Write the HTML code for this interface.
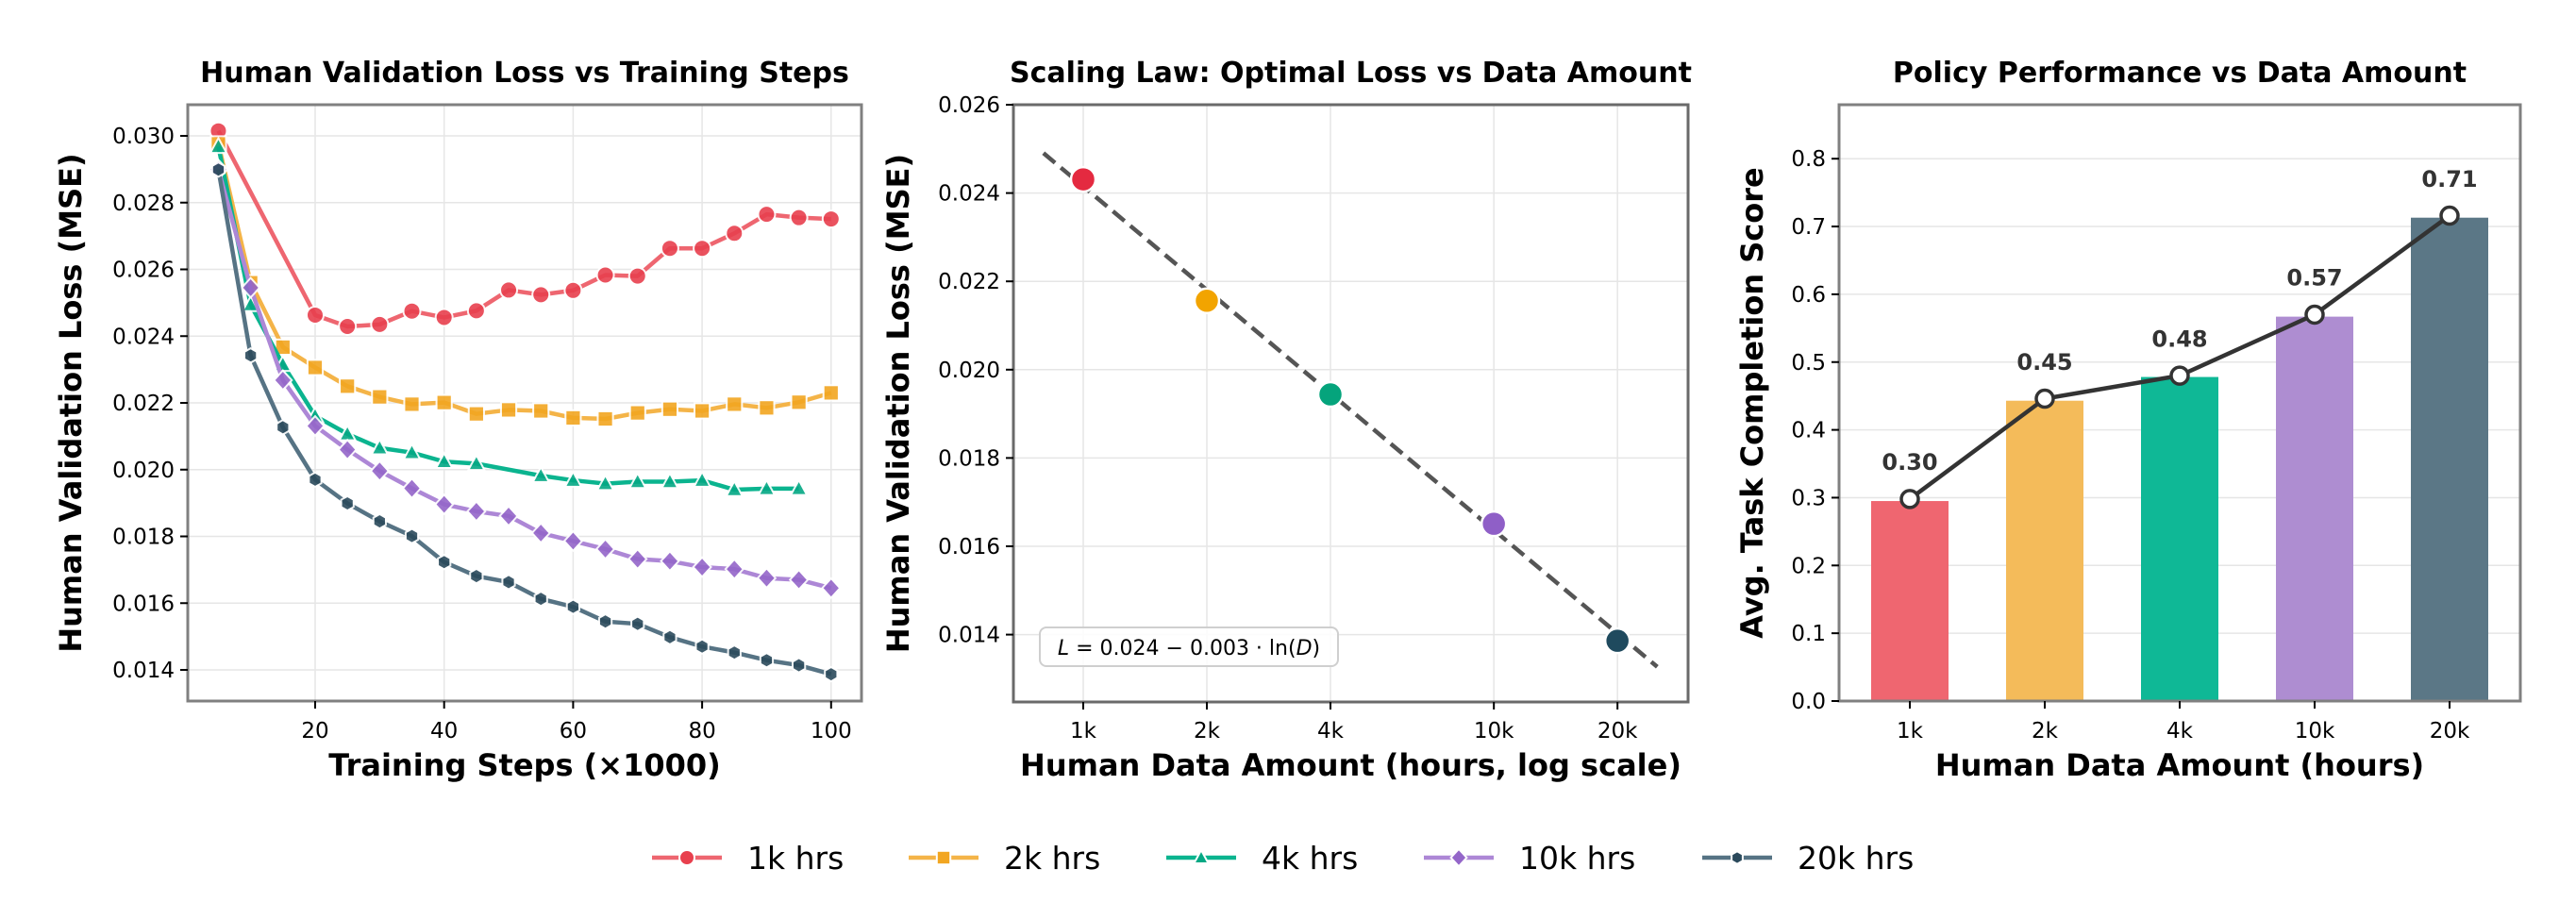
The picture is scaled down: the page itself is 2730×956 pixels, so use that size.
<!DOCTYPE html>
<html><head><meta charset="utf-8"><style>
html,body{margin:0;padding:0;background:#fff;}
svg{display:block;font-family:"DejaVu Sans","Liberation Sans",sans-serif;}
</style></head><body>
<svg id="chart" width="2730" height="956" viewBox="0 0 2730 956" xmlns="http://www.w3.org/2000/svg">
<g id="p1"></g>
<g id="p2"></g>
<g id="p3"></g>
<g id="legend"></g>
</svg>
<script>
// ---- Panel 1 data ----
const steps = [5,10,15,20,25,30,35,40,45,50,55,60,65,70,75,80,85,90,95,100];
const loss1k = [0.03015,null,null,0.02463,0.02429,0.02435,0.02475,0.02456,0.02476,0.02538,0.02524,0.02537,0.02583,0.0258,0.02663,0.02663,0.02708,0.02765,0.02755,0.02751];
const loss2k = [0.02976,0.0256,0.02367,0.02306,0.0225,0.02218,0.02196,0.02201,0.02167,0.02179,0.02176,0.02155,0.02152,0.0217,0.02181,0.02176,0.02196,0.02185,0.02202,0.0223];
const loss4k = [0.02968,0.02494,0.02315,0.02161,0.02107,0.02065,0.02051,0.02024,0.02018,null,0.01982,0.01968,0.01958,0.01964,0.01964,0.01968,0.0194,0.01943,0.01943,null];
const loss10k = [0.02899,0.02545,0.02268,0.02131,0.0206,0.01996,0.01944,0.01896,0.01875,0.01861,0.0181,0.01786,0.01762,0.01732,0.01726,0.01708,0.01702,0.01675,0.0167,0.01645];
const loss20k = [0.02899,0.02342,0.02127,0.0197,0.01899,0.01845,0.01801,0.01723,0.01681,0.01663,0.01613,0.01589,0.01545,0.01538,0.01498,0.0147,0.01452,0.01429,0.01414,0.01387];
const p1XTicks = [20,40,60,80,100];
const p1YTicks = [0.014,0.016,0.018,0.020,0.022,0.024,0.026,0.028,0.030];
const seriesNames = ["1k hrs","2k hrs","4k hrs","10k hrs","20k hrs"];
// ---- Panel 2 data ----
const dataHours = [1000,2000,4000,10000,20000];
const dataLabels = ["1k","2k","4k","10k","20k"];
const optimalLoss = [0.02431,0.02156,0.01944,0.01651,0.01386];
const fitParams = [0.02415,0.00338]; // L at 1k, slope per ln
const fitRange = [800,25000];
const p2YTicks = [0.014,0.016,0.018,0.020,0.022,0.024,0.026];
// ---- Panel 3 data ----
const barScores = [0.295,0.443,0.478,0.567,0.713];
const lineScores = [0.298,0.446,0.480,0.570,0.716];
const scoreLabels = ["0.30","0.45","0.48","0.57","0.71"];
const p3YTicks = [0.0,0.1,0.2,0.3,0.4,0.5,0.6,0.7,0.8];

const NS="http://www.w3.org/2000/svg";
function mk(parent,tag,attrs,text){const e=document.createElementNS(NS,tag);for(const k in attrs)e.setAttribute(k,attrs[k]);if(text!==undefined)e.textContent=text;parent.appendChild(e);return e;}

const lineCols=["#ee6670","#f4b448","#0bb48f","#ad87d6","#567384"];
const markCols=["#e8404e","#f2a621","#04a884","#9466c9","#2b4a5c"];
const scatCols=["#e42a40","#f2a400","#05a47c","#8f5fc7","#1f4a5e"];
const barCols=["#ef6670","#f4bb5a","#0fb896","#ae8dd1","#5b7786"];

function marker(g,type,cx,cy,r,fill,stroke){
  let el;
  if(type===0) el=mk(g,'circle',{cx:cx,cy:cy,r:r,fill:fill,stroke:stroke,'stroke-width':2});
  else if(type===1) el=mk(g,'rect',{x:cx-r*0.9,y:cy-r*0.9,width:r*1.8,height:r*1.8,fill:fill,stroke:stroke,'stroke-width':2});
  else if(type===2) el=mk(g,'polygon',{points:`${cx},${cy-r} ${cx+r*0.95},${cy+r*0.75} ${cx-r*0.95},${cy+r*0.75}`,fill:fill,stroke:stroke,'stroke-width':2});
  else if(type===3) el=mk(g,'polygon',{points:`${cx},${cy-r*1.15} ${cx+r*1.05},${cy} ${cx},${cy+r*1.15} ${cx-r*1.05},${cy}`,fill:fill,stroke:stroke,'stroke-width':2});
  else {let p=[];for(let k=0;k<6;k++){const a=Math.PI/6+k*Math.PI/3;p.push((cx+r*0.85*Math.cos(a))+','+(cy+r*0.85*Math.sin(a)));}
    el=mk(g,'polygon',{points:p.join(' '),fill:fill,stroke:stroke,'stroke-width':2});}
  return el;
}

// ===== Panel 1 =====
(function(){
const g=document.getElementById('p1');
const L=199,R=913,T=111,B=743;
const x=v=>L+(v-0.25)*6.835;
const y=v=>144+(0.030-v)/0.002*70.75;
p1XTicks.forEach(t=>{const e=mk(g,'line',{x1:x(t),x2:x(t),y1:T,y2:B,stroke:'#e6e6e6','stroke-width':1.5});
});
p1YTicks.forEach(t=>{const e=mk(g,'line',{x1:L,x2:R,y1:y(t),y2:y(t),stroke:'#e6e6e6','stroke-width':1.5});
});
const all=[loss1k,loss2k,loss4k,loss10k,loss20k];
all.forEach((s,si)=>{
  const sg=mk(g,'g',{});
  
  
  let pts=[];s.forEach((v,i)=>{if(v!==null)pts.push([x(steps[i]),y(v)]);});
  const pl=mk(sg,'polyline',{points:pts.map(p=>p.join(',')).join(' '),fill:'none',stroke:lineCols[si],'stroke-width':4.5,'stroke-linejoin':'round'});
  
  pts.forEach(p=>{const m=marker(sg,si,p[0],p[1],9,markCols[si],'#ffffff');m.setAttribute('opacity',0.9);
    });
});
mk(g,'rect',{x:L,y:T,width:R-L,height:B-T,fill:'none',stroke:'#808080','stroke-width':3});
p1XTicks.forEach(t=>{mk(g,'line',{x1:x(t),x2:x(t),y1:B,y2:B+8,stroke:'#000','stroke-width':2});
  const e=mk(g,'text',{x:x(t),y:782,'text-anchor':'middle','font-size':23},String(t));
  });
p1YTicks.forEach(t=>{mk(g,'line',{x1:L-8,x2:L,y1:y(t),y2:y(t),stroke:'#000','stroke-width':2});
  const e=mk(g,'text',{x:L-14,y:y(t)+8,'text-anchor':'end','font-size':23},t.toFixed(3));
  });
let e=mk(g,'text',{x:(L+R)/2,y:87,'text-anchor':'middle','font-size':30,'font-weight':'bold'},'Human Validation Loss vs Training Steps');

e=mk(g,'text',{x:(L+R)/2,y:822,'text-anchor':'middle','font-size':32,'font-weight':'bold'},'Training Steps (×1000)');

e=mk(g,'text',{x:0,y:0,'text-anchor':'middle','font-size':32,'font-weight':'bold',transform:`translate(86,${(T+B)/2}) rotate(-90)`},'Human Validation Loss (MSE)');

})();

// ===== Panel 2 =====
(function(){
const g=document.getElementById('p2');
const L=1074,R=1789,T=111,B=744;
const x=d=>1148+Math.log2(d/1000)*131;
const y=v=>111+(0.026-v)/0.002*93.6;
dataHours.forEach(d=>{const e=mk(g,'line',{x1:x(d),x2:x(d),y1:T,y2:B,stroke:'#e6e6e6','stroke-width':1.5});
});
p2YTicks.forEach(t=>{const e=mk(g,'line',{x1:L,x2:R,y1:y(t),y2:y(t),stroke:'#e6e6e6','stroke-width':1.5});
});
const f=d=>fitParams[0]-fitParams[1]*Math.log(d/1000);
let e=mk(g,'line',{x1:x(fitRange[0]),y1:y(f(fitRange[0])),x2:x(fitRange[1]),y2:y(f(fitRange[1])),stroke:'#555','stroke-width':4.5,'stroke-dasharray':'16,8'});

optimalLoss.forEach((v,i)=>{const c=mk(g,'circle',{cx:x(dataHours[i]),cy:y(v),r:13,fill:scatCols[i],stroke:'#fff','stroke-width':2.5});
});
mk(g,'rect',{x:L,y:T,width:R-L,height:B-T,fill:'none',stroke:'#6a6a6a','stroke-width':3});
dataHours.forEach((d,i)=>{mk(g,'line',{x1:x(d),x2:x(d),y1:B,y2:B+8,stroke:'#000','stroke-width':2});
  const t=mk(g,'text',{x:x(d),y:782,'text-anchor':'middle','font-size':23},dataLabels[i]);
  });
p2YTicks.forEach(t=>{mk(g,'line',{x1:L-8,x2:L,y1:y(t),y2:y(t),stroke:'#000','stroke-width':2});
  const s=mk(g,'text',{x:L-14,y:y(t)+8,'text-anchor':'end','font-size':23},t.toFixed(3));
  });
const ab=mk(g,'g',{});
mk(ab,'rect',{x:1102,y:665,width:316,height:41,rx:7,fill:'#fff','fill-opacity':0.85,stroke:'#cfcfcf','stroke-width':2});
const tx=mk(ab,'text',{x:1260,y:694,'text-anchor':'middle','font-size':22});
mk(tx,'tspan',{'font-style':'italic'},'L');mk(tx,'tspan',{},' = 0.024 − 0.003 · ln(');mk(tx,'tspan',{'font-style':'italic'},'D');mk(tx,'tspan',{},')');
e=mk(g,'text',{x:(L+R)/2,y:87,'text-anchor':'middle','font-size':30,'font-weight':'bold'},'Scaling Law: Optimal Loss vs Data Amount');

e=mk(g,'text',{x:(L+R)/2,y:822,'text-anchor':'middle','font-size':32,'font-weight':'bold'},'Human Data Amount (hours, log scale)');

e=mk(g,'text',{x:0,y:0,'text-anchor':'middle','font-size':32,'font-weight':'bold',transform:`translate(963,${(T+B)/2}) rotate(-90)`},'Human Validation Loss (MSE)');

})();

// ===== Panel 3 =====
(function(){
const g=document.getElementById('p3');
const L=1949,R=2671,T=111,B=743;
const x=i=>2024+i*143;
const y=v=>743-v*718.5;
p3YTicks.forEach(t=>{const e=mk(g,'line',{x1:L,x2:R,y1:y(t),y2:y(t),stroke:'#e6e6e6','stroke-width':1.5});
});
barScores.forEach((v,i)=>{const r=mk(g,'rect',{x:x(i)-41,y:y(v),width:82,height:y(0)-y(v),fill:barCols[i]});
});
let e=mk(g,'polyline',{points:lineScores.map((v,i)=>x(i)+','+y(v)).join(' '),fill:'none',stroke:'#333','stroke-width':4.5});

lineScores.forEach((v,i)=>{const c=mk(g,'circle',{cx:x(i),cy:y(v),r:9,fill:'#fff',stroke:'#333','stroke-width':3.5});

const t=mk(g,'text',{x:x(i),y:y(v+0.054)+8,'text-anchor':'middle','font-size':24,'font-weight':'bold',fill:'#333'},scoreLabels[i]);
});
mk(g,'rect',{x:L,y:T,width:R-L,height:B-T,fill:'none',stroke:'#808080','stroke-width':3});
dataLabels.forEach((s,i)=>{mk(g,'line',{x1:x(i),x2:x(i),y1:B,y2:B+8,stroke:'#000','stroke-width':2});
  const t=mk(g,'text',{x:x(i),y:782,'text-anchor':'middle','font-size':23},s);
  });
p3YTicks.forEach(t=>{mk(g,'line',{x1:L-8,x2:L,y1:y(t),y2:y(t),stroke:'#000','stroke-width':2});
  const s=mk(g,'text',{x:L-14,y:y(t)+8,'text-anchor':'end','font-size':23},t.toFixed(1));
  });
e=mk(g,'text',{x:(L+R)/2,y:87,'text-anchor':'middle','font-size':30,'font-weight':'bold'},'Policy Performance vs Data Amount');

e=mk(g,'text',{x:(L+R)/2,y:822,'text-anchor':'middle','font-size':32,'font-weight':'bold'},'Human Data Amount (hours)');

e=mk(g,'text',{x:0,y:0,'text-anchor':'middle','font-size':32,'font-weight':'bold',transform:`translate(1868,${(T+B)/2}) rotate(-90)`},'Avg. Task Completion Score');

})();

// ===== Legend =====
(function(){
const g=document.getElementById('legend');
const lx=[691,963,1236,1509,1804];
seriesNames.forEach((n,i)=>{
  const eg=mk(g,'g',{});
  
  
  mk(eg,'line',{x1:lx[i],x2:lx[i]+74,y1:909,y2:909,stroke:lineCols[i],'stroke-width':4.5});
  marker(eg,i,lx[i]+37,909,8,markCols[i],'#ffffff');
  mk(eg,'text',{x:lx[i]+101,y:921,'font-size':33},n);
});
})();
</script>
</body></html>
